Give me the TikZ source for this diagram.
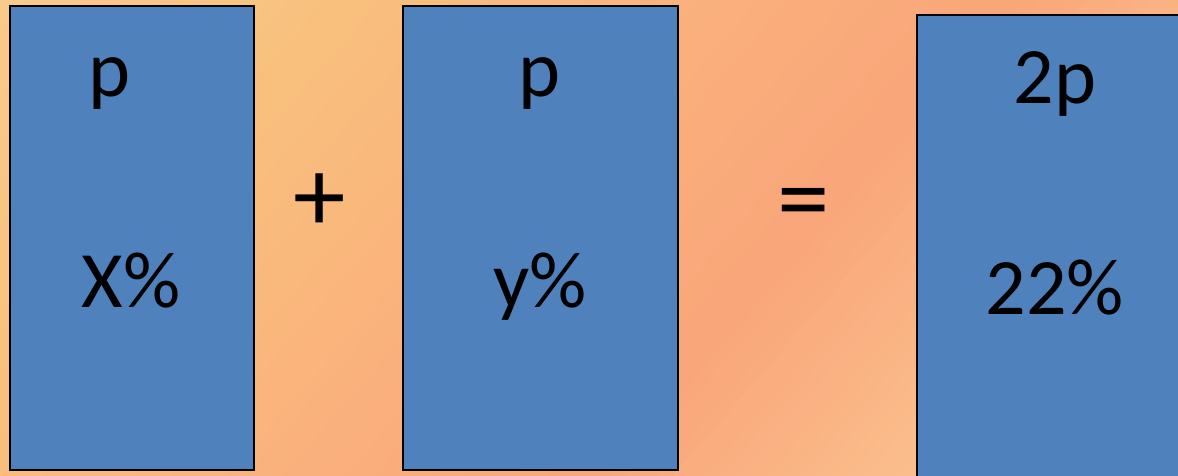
\documentclass[tikz,border=0pt]{standalone}
\usepackage{fontspec}
\setmainfont{Carlito}
\definecolor{bgA}{HTML}{FACB8C}
\definecolor{bgB}{HTML}{F9C07D}
\definecolor{bgC}{HTML}{FAB07C}
\definecolor{bgD}{HTML}{F9A67A}
\definecolor{bgE}{HTML}{FBBE8C}
\definecolor{bgF}{HTML}{FBC898}
\definecolor{boxblue}{HTML}{4F81BD}
\newcommand\bgsegment[4]{%
  \foreach \k in {0,...,19}{%
    \pgfmathsetmacro\ta{#1+(#2-#1)*\k/20}%
    \pgfmathsetmacro\tb{#1+(#2-#1)*(\k+1)/20+1.5}%
    \pgfmathsetmacro\pc{100-(\k+0.5)*5}%
    \fill[#3!\pc!#4] (\ta,-900) rectangle (\tb,900);
  }}
\tikzset{
  valbox/.style={fill=boxblue, draw=black, line width=1.5pt},
  lbl/.style={font=\fontsize{80}{96}\selectfont, inner sep=0pt, anchor=base},
  opsym/.style={font=\fontsize{105}{120}\selectfont, inner sep=0pt, anchor=center}
}
\begin{document}
\begin{tikzpicture}[x=1pt,y=1pt]
\useasboundingbox (0,0) rectangle (1178,476);
\begin{scope}
  \clip (0,0) rectangle (1178,476);
  \begin{scope}[shift={(0,476)}, rotate=-41]
    \bgsegment{-20}{260}{bgA}{bgB}
    \bgsegment{260}{540}{bgB}{bgC}
    \bgsegment{540}{760}{bgC}{bgD}
    \bgsegment{760}{1000}{bgD}{bgE}
    \bgsegment{1000}{1230}{bgE}{bgF}
  \end{scope}
  \draw[valbox] (10,6) rectangle (254,470);
  \draw[valbox] (403,6) rectangle (678,470);
  \draw[valbox] (917,-4) rectangle (1195,461);
\end{scope}
\node[lbl] (p1) at (110,379) {p};
\node[lbl] (x1) at (131,168) {X\%};
\node[lbl] (p2) at (540,379) {p};
\node[lbl] (y2) at (540,168) {y\%};
\node[lbl] (p3) at (1055,372) {2p};
\node[lbl] (v3) at (1055,161) {22\%};
\node[opsym] (plus) at (320,273) {+};
\node[opsym] (eq) at (804,265) {=};
\end{tikzpicture}
\end{document}
